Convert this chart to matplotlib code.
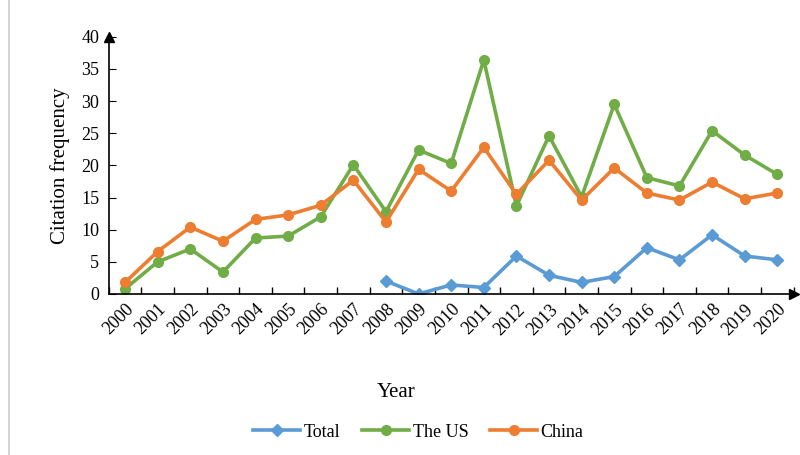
import matplotlib.pyplot as plt
from matplotlib.lines import Line2D

plt.rcParams['font.family'] = ['Liberation Serif', 'DejaVu Serif']

years = [str(y) for y in range(2000, 2021)]
total_years = years[8:]
total = [2.0, 0.0, 1.4, 1.0, 5.9, 2.9, 1.8, 2.7, 7.2, 5.3, 9.2, 5.9, 5.3]
us = [0.8, 5.0, 7.0, 3.4, 8.7, 9.0, 12.0, 20.1, 12.8, 22.4, 20.3, 36.4, 13.7,
      24.6, 15.1, 29.5, 18.1, 16.8, 25.4, 21.6, 18.6]
china = [1.8, 6.6, 10.4, 8.2, 11.6, 12.3, 13.8, 17.7, 11.2, 19.4, 16.0, 22.8, 15.5,
         20.8, 14.6, 19.6, 15.7, 14.6, 17.4, 14.8, 15.7]

fig = plt.figure(figsize=(8, 4.55), dpi=100)
ax = fig.add_axes([0.136, 0.354, 0.856, 0.565])

xs = list(range(len(years)))
ax.plot(xs[8:], total, color='#5B9BD5', lw=2.6, marker='D', ms=6, label='Total')
ax.plot(xs, us, color='#70AD47', lw=2.6, marker='o', ms=7, label='The US')
ax.plot(xs, china, color='#ED7D31', lw=2.6, marker='o', ms=7, label='China')

ax.set_xlim(-0.5, 20.5)
ax.set_ylim(0, 40)
ax.set_yticks(range(0, 41, 5))
ax.set_xticks(xs)
ax.set_xticklabels(years, rotation=45, ha='right', va='top', rotation_mode='anchor', fontsize=13)
ax.set_xticks([x + 0.5 for x in range(-1, 21)], minor=True)
ax.tick_params(axis='x', which='major', length=0, pad=5)
ax.tick_params(axis='x', which='minor', direction='in', length=5, width=1)
ax.tick_params(axis='y', direction='in', length=5, labelsize=13, pad=7)

for s in ['top', 'right']:
    ax.spines[s].set_visible(False)
for s in ['left', 'bottom']:
    ax.spines[s].set_linewidth(1.2)
    ax.spines[s].set_color('black')

# arrow heads on the axes
ax.plot(1, 0, '>', color='black', ms=7, transform=ax.transAxes, clip_on=False)
ax.plot(0, 1, '^', color='black', ms=7, transform=ax.transAxes, clip_on=False)

ax.set_ylabel('Citation frequency', fontsize=15, labelpad=8)
fig.text(0.495, 0.138, 'Year', ha='center', va='center', fontsize=15)

fig.legend(loc='center', bbox_to_anchor=(0.523, 0.05), ncol=3, frameon=False,
           fontsize=13, handlelength=2.6, handletextpad=0.2, columnspacing=1.2)

fig.add_artist(Line2D([0.011, 0.011], [0, 1], color='#cccccc', lw=1.2, transform=fig.transFigure))

fig.savefig('out.png', dpi=100)
